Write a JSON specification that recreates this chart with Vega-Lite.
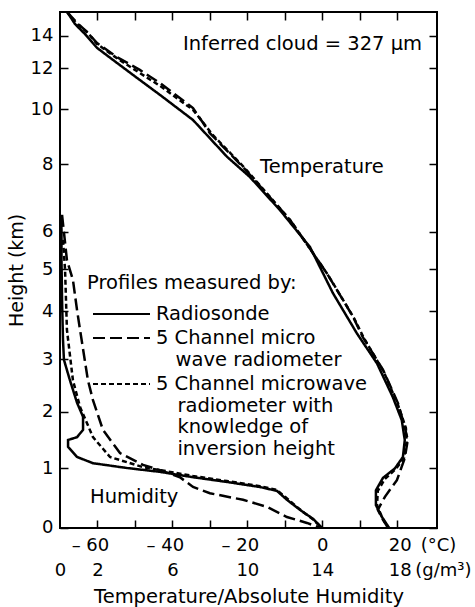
{
  "$schema": "https://vega.github.io/schema/vega-lite/v6.json",
  "width": 377,
  "height": 516,
  "autosize": {"type": "none"},
  "padding": {"left": 60, "top": 12, "right": 38, "bottom": 79},
  "background": "white",
  "config": {
    "view": {"stroke": "black", "strokeWidth": 2},
    "font": "DejaVu Sans",
    "axis": {
      "domainColor": "black", "domainWidth": 2, "tickColor": "black", "tickWidth": 1.5,
      "labelColor": "black", "titleColor": "black", "labelFont": "DejaVu Sans", "titleFont": "DejaVu Sans",
      "labelFontSize": 18, "titleFontSize": 19, "titleFontWeight": "normal", "grid": false,
      "labelFlush": false, "labelOverlap": false
    }
  },
  "datasets": {
    "temp": [
      {"series": "Radiosonde", "height": 15.6, "temperature": -68.1},
      {"series": "Radiosonde", "height": 14.79, "temperature": -66.0},
      {"series": "Radiosonde", "height": 14.1, "temperature": -63.3},
      {"series": "Radiosonde", "height": 13.25, "temperature": -60.1},
      {"series": "Radiosonde", "height": 12.33, "temperature": -54.8},
      {"series": "Radiosonde", "height": 11.43, "temperature": -48.7},
      {"series": "Radiosonde", "height": 10.7, "temperature": -43.3},
      {"series": "Radiosonde", "height": 9.61, "temperature": -34.5},
      {"series": "Radiosonde", "height": 8.27, "temperature": -25.4},
      {"series": "Radiosonde", "height": 7.62, "temperature": -19.3},
      {"series": "Radiosonde", "height": 6.64, "temperature": -11.3},
      {"series": "Radiosonde", "height": 5.59, "temperature": -3.3},
      {"series": "Radiosonde", "height": 4.43, "temperature": 2.8},
      {"series": "Radiosonde", "height": 3.54, "temperature": 9.2},
      {"series": "Radiosonde", "height": 2.92, "temperature": 14.6},
      {"series": "Radiosonde", "height": 2.28, "temperature": 18.8},
      {"series": "Radiosonde", "height": 1.85, "temperature": 21.2},
      {"series": "Radiosonde", "height": 1.5, "temperature": 22.0},
      {"series": "Radiosonde", "height": 1.2, "temperature": 21.5},
      {"series": "Radiosonde", "height": 1.0, "temperature": 19.4},
      {"series": "Radiosonde", "height": 0.84, "temperature": 16.2},
      {"series": "Radiosonde", "height": 0.63, "temperature": 14.3},
      {"series": "Radiosonde", "height": 0.38, "temperature": 14.3},
      {"series": "Radiosonde", "height": 0.18, "temperature": 15.9},
      {"series": "Radiosonde", "height": 0, "temperature": 17.8},
      {"series": "5 Channel microwave radiometer", "height": 15.6, "temperature": -68.1},
      {"series": "5 Channel microwave radiometer", "height": 14.93, "temperature": -65.7},
      {"series": "5 Channel microwave radiometer", "height": 14.25, "temperature": -62.8},
      {"series": "5 Channel microwave radiometer", "height": 13.55, "temperature": -60.1},
      {"series": "5 Channel microwave radiometer", "height": 12.69, "temperature": -54.8},
      {"series": "5 Channel microwave radiometer", "height": 11.92, "temperature": -48.7},
      {"series": "5 Channel microwave radiometer", "height": 11.28, "temperature": -43.3},
      {"series": "5 Channel microwave radiometer", "height": 10.06, "temperature": -34.5},
      {"series": "5 Channel microwave radiometer", "height": 9.5, "temperature": -31.8},
      {"series": "5 Channel microwave radiometer", "height": 9.13, "temperature": -30.0},
      {"series": "5 Channel microwave radiometer", "height": 7.92, "temperature": -21.2},
      {"series": "5 Channel microwave radiometer", "height": 6.35, "temperature": -8.6},
      {"series": "5 Channel microwave radiometer", "height": 4.9, "temperature": 1.2},
      {"series": "5 Channel microwave radiometer", "height": 3.88, "temperature": 8.2},
      {"series": "5 Channel microwave radiometer", "height": 3.46, "temperature": 10.8},
      {"series": "5 Channel microwave radiometer", "height": 2.8, "temperature": 16.2},
      {"series": "5 Channel microwave radiometer", "height": 2.16, "temperature": 20.2},
      {"series": "5 Channel microwave radiometer", "height": 1.73, "temperature": 22.0},
      {"series": "5 Channel microwave radiometer", "height": 1.5, "temperature": 22.8},
      {"series": "5 Channel microwave radiometer", "height": 1.18, "temperature": 22.0},
      {"series": "5 Channel microwave radiometer", "height": 0.8, "temperature": 19.9},
      {"series": "5 Channel microwave radiometer", "height": 0.52, "temperature": 16.7},
      {"series": "5 Channel microwave radiometer", "height": 0.3, "temperature": 14.8},
      {"series": "5 Channel microwave radiometer", "height": 0.13, "temperature": 16.2},
      {"series": "5 Channel microwave radiometer", "height": 0, "temperature": 17.5},
      {"series": "5 Channel microwave radiometer with knowledge of inversion height", "height": 15.6, "temperature": -68.1},
      {"series": "5 Channel microwave radiometer with knowledge of inversion height", "height": 14.86, "temperature": -65.7},
      {"series": "5 Channel microwave radiometer with knowledge of inversion height", "height": 14.18, "temperature": -62.5},
      {"series": "5 Channel microwave radiometer with knowledge of inversion height", "height": 13.49, "temperature": -60.1},
      {"series": "5 Channel microwave radiometer with knowledge of inversion height", "height": 12.57, "temperature": -54.5},
      {"series": "5 Channel microwave radiometer with knowledge of inversion height", "height": 11.77, "temperature": -48.7},
      {"series": "5 Channel microwave radiometer with knowledge of inversion height", "height": 11.14, "temperature": -43.3},
      {"series": "5 Channel microwave radiometer with knowledge of inversion height", "height": 9.98, "temperature": -34.5},
      {"series": "5 Channel microwave radiometer with knowledge of inversion height", "height": 9.43, "temperature": -31.3},
      {"series": "5 Channel microwave radiometer with knowledge of inversion height", "height": 9.09, "temperature": -29.4},
      {"series": "5 Channel microwave radiometer with knowledge of inversion height", "height": 7.88, "temperature": -20.6},
      {"series": "5 Channel microwave radiometer with knowledge of inversion height", "height": 6.32, "temperature": -8.4},
      {"series": "5 Channel microwave radiometer with knowledge of inversion height", "height": 4.86, "temperature": 1.5},
      {"series": "5 Channel microwave radiometer with knowledge of inversion height", "height": 3.86, "temperature": 8.4},
      {"series": "5 Channel microwave radiometer with knowledge of inversion height", "height": 3.44, "temperature": 11.1},
      {"series": "5 Channel microwave radiometer with knowledge of inversion height", "height": 2.76, "temperature": 16.4},
      {"series": "5 Channel microwave radiometer with knowledge of inversion height", "height": 2.13, "temperature": 20.2},
      {"series": "5 Channel microwave radiometer with knowledge of inversion height", "height": 1.71, "temperature": 22.3},
      {"series": "5 Channel microwave radiometer with knowledge of inversion height", "height": 1.47, "temperature": 22.5},
      {"series": "5 Channel microwave radiometer with knowledge of inversion height", "height": 1.18, "temperature": 21.8},
      {"series": "5 Channel microwave radiometer with knowledge of inversion height", "height": 0.99, "temperature": 19.6},
      {"series": "5 Channel microwave radiometer with knowledge of inversion height", "height": 0.82, "temperature": 16.7},
      {"series": "5 Channel microwave radiometer with knowledge of inversion height", "height": 0.62, "temperature": 14.8},
      {"series": "5 Channel microwave radiometer with knowledge of inversion height", "height": 0.38, "temperature": 14.6},
      {"series": "5 Channel microwave radiometer with knowledge of inversion height", "height": 0.18, "temperature": 15.9},
      {"series": "5 Channel microwave radiometer with knowledge of inversion height", "height": 0, "temperature": 17.5}
    ],
    "hum": [
      {"series": "Radiosonde", "height": 6.5, "humidity": 0.05},
      {"series": "Radiosonde", "height": 6.05, "humidity": 0.08},
      {"series": "Radiosonde", "height": 5.24, "humidity": 0.08},
      {"series": "Radiosonde", "height": 4.26, "humidity": 0.11},
      {"series": "Radiosonde", "height": 3.4, "humidity": 0.16},
      {"series": "Radiosonde", "height": 2.99, "humidity": 0.21},
      {"series": "Radiosonde", "height": 2.6, "humidity": 0.53},
      {"series": "Radiosonde", "height": 2.17, "humidity": 0.91},
      {"series": "Radiosonde", "height": 1.91, "humidity": 1.23},
      {"series": "Radiosonde", "height": 1.68, "humidity": 1.23},
      {"series": "Radiosonde", "height": 1.55, "humidity": 0.91},
      {"series": "Radiosonde", "height": 1.5, "humidity": 0.43},
      {"series": "Radiosonde", "height": 1.38, "humidity": 0.43},
      {"series": "Radiosonde", "height": 1.2, "humidity": 0.91},
      {"series": "Radiosonde", "height": 1.09, "humidity": 1.76},
      {"series": "Radiosonde", "height": 1.005, "humidity": 3.58},
      {"series": "Radiosonde", "height": 0.94, "humidity": 5.34},
      {"series": "Radiosonde", "height": 0.85, "humidity": 7.1},
      {"series": "Radiosonde", "height": 0.77, "humidity": 8.91},
      {"series": "Radiosonde", "height": 0.685, "humidity": 10.67},
      {"series": "Radiosonde", "height": 0.62, "humidity": 11.58},
      {"series": "Radiosonde", "height": 0.47, "humidity": 12.11},
      {"series": "Radiosonde", "height": 0.3, "humidity": 12.81},
      {"series": "Radiosonde", "height": 0.15, "humidity": 13.5},
      {"series": "Radiosonde", "height": 0, "humidity": 13.98},
      {"series": "5 Channel microwave radiometer", "height": 6.5, "humidity": 0.11},
      {"series": "5 Channel microwave radiometer", "height": 5.24, "humidity": 0.37},
      {"series": "5 Channel microwave radiometer", "height": 4.74, "humidity": 0.69},
      {"series": "5 Channel microwave radiometer", "height": 4.02, "humidity": 0.91},
      {"series": "5 Channel microwave radiometer", "height": 3.61, "humidity": 1.07},
      {"series": "5 Channel microwave radiometer", "height": 2.6, "humidity": 1.49},
      {"series": "5 Channel microwave radiometer", "height": 2.22, "humidity": 1.76},
      {"series": "5 Channel microwave radiometer", "height": 1.68, "humidity": 2.29},
      {"series": "5 Channel microwave radiometer", "height": 1.27, "humidity": 3.2},
      {"series": "5 Channel microwave radiometer", "height": 1.06, "humidity": 4.43},
      {"series": "5 Channel microwave radiometer", "height": 0.97, "humidity": 5.34},
      {"series": "5 Channel microwave radiometer", "height": 0.85, "humidity": 6.4},
      {"series": "5 Channel microwave radiometer", "height": 0.685, "humidity": 7.1},
      {"series": "5 Channel microwave radiometer", "height": 0.58, "humidity": 8.0},
      {"series": "5 Channel microwave radiometer", "height": 0.47, "humidity": 9.77},
      {"series": "5 Channel microwave radiometer", "height": 0.35, "humidity": 11.05},
      {"series": "5 Channel microwave radiometer", "height": 0.18, "humidity": 12.11},
      {"series": "5 Channel microwave radiometer", "height": 0.08, "humidity": 13.18},
      {"series": "5 Channel microwave radiometer", "height": 0, "humidity": 13.87},
      {"series": "5 Channel microwave radiometer with knowledge of inversion height", "height": 5.78, "humidity": 0.16},
      {"series": "5 Channel microwave radiometer with knowledge of inversion height", "height": 4.98, "humidity": 0.27},
      {"series": "5 Channel microwave radiometer with knowledge of inversion height", "height": 4.26, "humidity": 0.32},
      {"series": "5 Channel microwave radiometer with knowledge of inversion height", "height": 3.61, "humidity": 0.37},
      {"series": "5 Channel microwave radiometer with knowledge of inversion height", "height": 2.6, "humidity": 0.69},
      {"series": "5 Channel microwave radiometer with knowledge of inversion height", "height": 2.09, "humidity": 1.07},
      {"series": "5 Channel microwave radiometer with knowledge of inversion height", "height": 1.55, "humidity": 1.76},
      {"series": "5 Channel microwave radiometer with knowledge of inversion height", "height": 1.2, "humidity": 2.67},
      {"series": "5 Channel microwave radiometer with knowledge of inversion height", "height": 1.02, "humidity": 4.43},
      {"series": "5 Channel microwave radiometer with knowledge of inversion height", "height": 0.97, "humidity": 5.34},
      {"series": "5 Channel microwave radiometer with knowledge of inversion height", "height": 0.87, "humidity": 7.1},
      {"series": "5 Channel microwave radiometer with knowledge of inversion height", "height": 0.785, "humidity": 8.91},
      {"series": "5 Channel microwave radiometer with knowledge of inversion height", "height": 0.7, "humidity": 10.67},
      {"series": "5 Channel microwave radiometer with knowledge of inversion height", "height": 0.635, "humidity": 11.58},
      {"series": "5 Channel microwave radiometer with knowledge of inversion height", "height": 0.45, "humidity": 12.27},
      {"series": "5 Channel microwave radiometer with knowledge of inversion height", "height": 0.28, "humidity": 12.91},
      {"series": "5 Channel microwave radiometer with knowledge of inversion height", "height": 0.13, "humidity": 13.55},
      {"series": "5 Channel microwave radiometer with knowledge of inversion height", "height": 0, "humidity": 13.93}
    ],
    "notes": [
      {"text": "Inferred cloud = 327 μm", "temperature": -37.2, "height": 13.49},
      {"text": "Temperature", "temperature": -16.6, "height": 7.93},
      {"text": "Humidity", "temperature": -62.0, "height": 0.52}
    ]
  },
  "layer": [
    {
      "data": {"name": "temp"},
      "mark": {"type": "line", "color": "black", "strokeWidth": 2.5},
      "encoding": {
        "x": {
          "field": "temperature", "type": "quantitative",
          "scale": {"domain": [-70, 30.6], "nice": false, "zero": false},
          "axis": {
            "orient": "bottom", "title": null, "domain": false, "offset": -8,
            "values": [-60, -50, -40, -30, -20, -10, 0, 10, 20],
            "tickSize": 8, "labelPadding": 8, "labelFontSize": 18,
            "labelExpr": "datum.value == 20 ? '20\u2002(°C)' : (datum.value % 20 != 0 ? '' : (datum.value < 0 ? '\u2013 ' + format(-datum.value, 'd') + '\u2007\u2009\u200b' : format(datum.value, 'd')))",
            "labelAlign": {"condition": {"test": "datum.value == 20", "value": "left"}, "value": "center"},
            "labelOffset": {"condition": {"test": "datum.value == 20", "value": -9}, "value": 0}
          }
        },
        "y": {
          "field": "height", "type": "quantitative",
          "scale": {"domain": [0, 1, 2, 3, 4, 5, 6, 8, 10, 12, 14, 15.6], "range": [515.7, 456.3, 399.7, 347.3, 299, 257, 219.7, 152.3, 97.3, 56.3, 23.7, 0], "nice": false, "zero": false},
          "axis": {
            "orient": "left", "title": "Height (km)", "titlePadding": 4, "domain": false, "offset": -8,
            "values": [0, 1, 2, 3, 4, 5, 6, 8, 10, 12, 14],
            "tickSize": 8, "labelPadding": 7
          }
        },
        "strokeDash": {
          "field": "series", "type": "nominal",
          "scale": {"domain": ["Radiosonde", "5 Channel microwave radiometer", "5 Channel microwave radiometer with knowledge of inversion height"], "range": [[1, 0], [12, 5], [5, 3]]},
          "legend": {
            "orient": "none", "legendX": 27, "legendY": 262, "padding": 0,
            "title": "Profiles measured by:", "titleFont": "DejaVu Sans", "titleFontSize": 19.5, "titleFontWeight": "normal", "titleColor": "black", "titlePadding": 10, "titleLimit": 400,
            "labelFont": "DejaVu Sans", "labelFontSize": 19.5, "labelColor": "black", "labelLimit": 400, "labelOffset": 43,
            "symbolType": "M-1,0H5", "symbolSize": 361, "symbolStrokeWidth": 2, "symbolStrokeColor": "black", "symbolOffset": 5,
            "rowPadding": 4,
            "labelExpr": "datum.label == 'Radiosonde' ? 'Radiosonde' : (datum.label == '5 Channel microwave radiometer' ? ['5 Channel micro', '\u200b\u2002\u2002wave radiometer'] : ['5 Channel microwave', '\u200b\u2002\u2002\u200aradiometer with', '\u200b\u2002\u2002\u200aknowledge of', '\u200b\u2002\u2002\u200ainversion height'])"
          }
        },
        "order": {"field": "height", "sort": "descending"}
      }
    },
    {
      "data": {"name": "hum"},
      "mark": {"type": "line", "color": "black", "strokeWidth": 2.5},
      "encoding": {
        "x": {
          "field": "humidity", "type": "quantitative",
          "scale": {"domain": [0, 20.12], "nice": false, "zero": false},
          "axis": {
            "orient": "bottom", "title": "Temperature/Absolute Humidity", "titlePadding": 8, "titleFontSize": 19.5,
            "values": [0, 2, 6, 10, 14, 18], "ticks": false, "domain": false,
            "labelPadding": 33, "labelFontSize": 18,
            "labelExpr": "datum.value == 18 ? '18\u2009(g/m³)' : format(datum.value, 'd')",
            "labelAlign": {"condition": {"test": "datum.value == 18", "value": "left"}, "value": "center"},
            "labelOffset": {"condition": {"test": "datum.value == 18", "value": -9}, "value": 0}
          }
        },
        "y": {
          "field": "height", "type": "quantitative",
          "scale": {"domain": [0, 1, 2, 3, 4, 5, 6, 8, 10, 12, 14, 15.6], "range": [515.7, 456.3, 399.7, 347.3, 299, 257, 219.7, 152.3, 97.3, 56.3, 23.7, 0], "nice": false, "zero": false},
          "axis": {
            "orient": "right", "title": null, "labels": false, "domain": false, "offset": -8,
            "values": [0, 1, 2, 3, 4, 5, 6, 8, 10, 12, 14],
            "tickSize": 8
          }
        },
        "strokeDash": {
          "field": "series", "type": "nominal",
          "scale": {"domain": ["Radiosonde", "5 Channel microwave radiometer", "5 Channel microwave radiometer with knowledge of inversion height"], "range": [[1, 0], [12, 5], [5, 3]]}
        },
        "order": {"field": "height", "sort": "descending"}
      }
    },
    {
      "data": {"name": "notes"},
      "mark": {"type": "text", "align": "left", "baseline": "middle", "fontSize": 19.5, "font": "DejaVu Sans", "color": "black"},
      "encoding": {
        "x": {
          "field": "temperature", "type": "quantitative",
          "scale": {"domain": [-70, 30.6], "nice": false, "zero": false},
          "axis": {
            "orient": "top", "title": null, "labels": false, "domain": false, "offset": -8,
            "values": [-60, -50, -40, -30, -20, -10, 0, 10, 20],
            "tickSize": 8
          }
        },
        "y": {
          "field": "height", "type": "quantitative",
          "scale": {"domain": [0, 1, 2, 3, 4, 5, 6, 8, 10, 12, 14, 15.6], "range": [515.7, 456.3, 399.7, 347.3, 299, 257, 219.7, 152.3, 97.3, 56.3, 23.7, 0], "nice": false, "zero": false},
          "axis": null
        },
        "text": {"field": "text", "type": "nominal"}
      }
    }
  ],
  "resolve": {"scale": {"x": "independent"}, "axis": {"x": "independent", "y": "independent"}}
}
